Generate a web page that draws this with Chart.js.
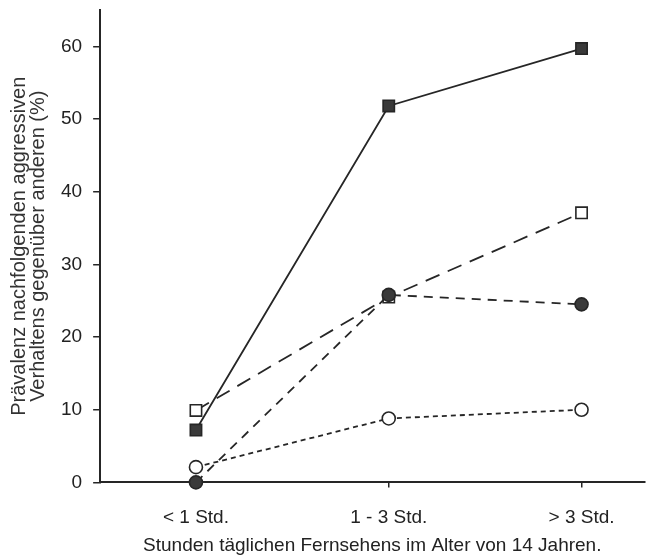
<!DOCTYPE html>
<html>
<head>
<meta charset="utf-8">
<script src="https://cdn.jsdelivr.net/npm/chart.js@4"></script>
<style>
  html, body { margin: 0; padding: 0; background: #fff; }
  #wrap { width: 654px; height: 558px; }
</style>
</head>
<body>
<div id="wrap"><canvas id="chart" width="654" height="558"></canvas></div>
<script>
const categories = ['< 1 Std.', '1 - 3 Std.', '> 3 Std.'];
const seriesFilledSquare = [7.2, 51.8, 59.7];
const seriesOpenSquare = [9.9, 25.5, 37.1];
const seriesFilledCircle = [0, 25.8, 24.5];
const seriesOpenCircle = [2.1, 8.8, 10.0];
const yTicks = [0, 10, 20, 30, 40, 50, 60];

const ink = '#262626';

// x positions are just the category index, so a linear scale can leave the odd left gap
function pts(vals) {
  return vals.map(function (v, i) { return { x: i, y: v } });
}

function series(vals, style, filled, radius, dash) {
  return {
    data: pts(vals),
    borderColor: ink,
    borderWidth: 1.8,
    borderDash: dash,
    pointStyle: style,
    pointRadius: radius,
    pointBorderWidth: 1.6,
    pointBorderColor: ink,
    pointBackgroundColor: filled ? '#3a3a3a' : '#fff',
    tension: 0,
    clip: false
  };
}

const font = { family: 'Liberation Sans, Arial, sans-serif', size: 19 };

new Chart(document.getElementById('chart'), {
  type: 'line',
  data: {
    datasets: [
      series(seriesFilledSquare, 'rect', true, 8, []),
      series(seriesFilledCircle, 'circle', true, 6.5, [9, 7]),
      series(seriesOpenSquare, 'rect', false, 8, [15, 9]),
      series(seriesOpenCircle, 'circle', false, 6.5, [5, 4])
    ]
  },
  options: {
    responsive: false,
    animation: false,
    layout: { padding: { top: 10, right: 4, bottom: 1, left: 10 } },
    plugins: { legend: { display: false }, tooltip: { enabled: false } },
    scales: {
      x: {
        type: 'linear',
        min: -0.497,
        max: 2.326,
        grid: { display: true, drawOnChartArea: false, drawTicks: true, tickLength: 5, color: ink, lineWidth: 1.5 },
        border: { display: true, color: ink, width: 2 },
        afterBuildTicks: function (axis) { axis.ticks = categories.map(function (c, i) { return { value: i } }) },
        afterFit: function (axis) { axis.paddingRight = 0; axis.paddingLeft = 0 },
        ticks: {
          color: '#222',
          font: font,
          padding: 19,
          maxRotation: 0,
          callback: function (v) { return categories[v] }
        },
        title: {
          display: true,
          text: 'Stunden täglichen Fernsehens im Alter von 14 Jahren.',
          color: '#222',
          font: font,
          padding: { top: -14, bottom: 0 }
        }
      },
      y: {
        min: 0,
        max: 65,
        grid: { display: true, drawOnChartArea: false, drawTicks: true, tickLength: 7, color: ink, lineWidth: 1.5 },
        border: { display: true, color: ink, width: 2 },
        afterBuildTicks: function (axis) { axis.ticks = yTicks.map(function (v) { return { value: v } }) },
        // top label is 60, not the axis max, so it needs no extra room above
        afterFit: function (axis) { axis.paddingTop = 0 },
        ticks: { color: '#222', font: font, padding: 11 },
        title: {
          display: true,
          text: ['Prävalenz nachfolgenden aggressiven', 'Verhaltens gegenüber anderen (%)'],
          color: '#333',
          font: { family: 'Liberation Sans, Arial, sans-serif', size: 20, lineHeight: 0.95 },
          padding: { top: 0, bottom: 2 }
        }
      }
    }
  }
});
</script>
</body>
</html>
